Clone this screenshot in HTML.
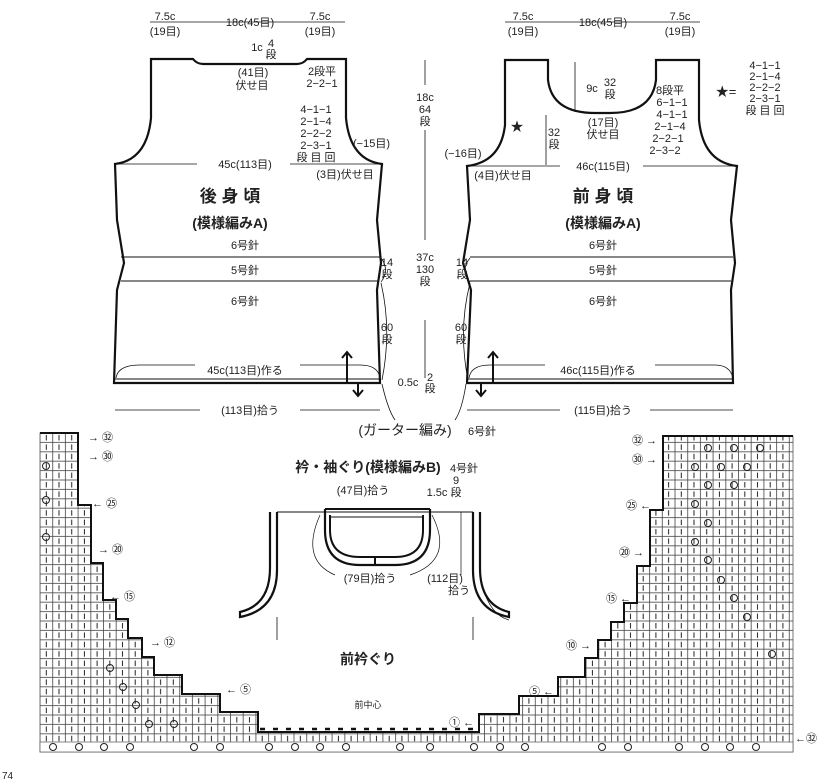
<!DOCTYPE html>
<html><head><meta charset="utf-8"><style>
html,body{margin:0;padding:0;background:#fff}
svg{display:block}
text{font-family:"Liberation Sans","Noto Sans CJK JP",sans-serif;fill:#222;font-size:11px}
.c{text-anchor:middle}
.b{font-weight:bold}
</style></head><body>
<svg width="826" height="780" viewBox="0 0 826 780" xmlns="http://www.w3.org/2000/svg">
<defs>
<pattern id="g" x="40" y="433" width="12.7" height="9.4" patternUnits="userSpaceOnUse">
<rect width="12.7" height="9.4" fill="#fff" stroke="#444" stroke-width="0.8"/>
<line x1="6.3" y1="2" x2="6.3" y2="7.5" stroke="#222" stroke-width="1"/>
</pattern>
</defs>
<rect width="826" height="780" fill="#fff"/>
<g fill="none" stroke="#111">
<path d="M151,59 L193,59 Q197,64 203,64 L297,64 Q303,64 307,59 L346,59 L346,118 Q350,160 382,164 L377,220 L381,263 L377,290 L380,383 L114,383 L117,290 L124,263 L117,220 L115,164 Q147,160 151,118 Z" stroke-width="2.2"/>
<line x1="114" y1="379" x2="380" y2="379" stroke-width="1"/>
<line x1="121" y1="257" x2="380" y2="257"/>
<line x1="121" y1="281" x2="378" y2="281"/>
<line x1="115" y1="164" x2="197" y2="164" stroke-width="0.8"/>
<line x1="290" y1="164" x2="382" y2="164" stroke-width="0.8"/>
<path d="M505,60 L548,60 L548,80 Q552,113 595,113 L610,113 Q652,113 656,80 L656,60 L699,60 L699,120 Q703,162 737,166 L731,220 L735,263 L731,290 L733,383 L467,383 L471,290 L463,263 L470,220 L467,166 Q501,162 505,125 Z" stroke-width="2.2"/>
<line x1="467" y1="379" x2="733" y2="379" stroke-width="1"/>
<line x1="470" y1="257" x2="733" y2="257"/>
<line x1="470" y1="281" x2="731" y2="281"/>
<line x1="467" y1="166" x2="560" y2="166" stroke-width="0.8"/>
<line x1="643" y1="166" x2="737" y2="166" stroke-width="0.8"/>
<g stroke-width="0.8">
<line x1="150" y1="22" x2="345" y2="22"/><line x1="505" y1="22" x2="700" y2="22"/>
<line x1="425" y1="60" x2="425" y2="85"/><line x1="425" y1="130" x2="425" y2="240"/><line x1="425" y1="320" x2="425" y2="378"/>
<line x1="115" y1="410" x2="200" y2="410"/><line x1="300" y1="410" x2="380" y2="410"/>
<line x1="467" y1="410" x2="560" y2="410"/><line x1="650" y1="410" x2="733" y2="410"/>
<line x1="575" y1="62" x2="575" y2="112"/><line x1="546" y1="115" x2="546" y2="165"/>
<path d="M116,378 Q118,365 140,365 L195,365 M300,365 L360,365 Q378,365 380,378"/>
<path d="M469,378 Q471,365 490,365 L545,365 M655,365 L715,365 Q730,365 733,378"/>
<path d="M381,258 Q390,270 381,282 M381,283 Q392,330 382,380 M382,384 Q388,410 395,420"/>
<path d="M470,258 Q460,270 470,282 M470,283 Q458,330 468,380 M466,384 Q462,410 455,420"/>
</g>
<g stroke-width="2">
<line x1="347" y1="352" x2="347" y2="383"/><path d="M342,358 L347,352 L352,358"/>
<line x1="358" y1="383" x2="358" y2="395"/><path d="M353,390 L358,396 L363,390"/>
<line x1="493" y1="352" x2="493" y2="383"/><path d="M488,358 L493,352 L498,358"/>
<line x1="481" y1="383" x2="481" y2="395"/><path d="M476,390 L481,396 L486,390"/>
</g>
<line x1="277" y1="512" x2="473" y2="512" stroke-width="0.9"/>
<path d="M270,512 L270,568 Q270,605 240,612 L240,617 Q277,610 277,570 L277,512" stroke-width="2.2"/>
<path d="M480,512 L480,568 Q480,605 509,612 L509,617 Q473,610 473,570 L473,512" stroke-width="2.2"/>
<line x1="277" y1="617" x2="277" y2="640" stroke-width="0.8"/>
<line x1="473" y1="617" x2="473" y2="640" stroke-width="0.8"/>
<path d="M325,509 L325,530 Q325,565 360,565 L395,565 Q430,565 430,530 L430,509" stroke-width="2.2"/>
<path d="M330,515 L330,530 Q330,557 360,557 L395,557 Q423,557 423,530 L423,515" stroke-width="2"/>
<line x1="325" y1="509" x2="430" y2="509" stroke-width="2"/>
<line x1="330" y1="517" x2="423" y2="517" stroke-width="1"/>
<line x1="375" y1="557" x2="375" y2="565" stroke-width="2"/>
<g stroke-width="0.7"><path d="M320,515 Q300,560 335,575"/><path d="M432,515 Q455,560 410,575"/><path d="M461,512 L461,575"/><path d="M482,585 Q490,615 509,620"/></g>
<path d="M40,433 L78,433 L78,505 L91,505 L91,563 L103,563 L103,600 L116,600 L116,619 L128,619 L128,638 L142,638 L142,657 L154,657 L154,675 L182,675 L182,694 L220,694 L220,712 L258,712 L258,732 L479,732 L479,714 L519,714 L519,696 L558,696 L558,677 L585,677 L585,658 L598,658 L598,640 L611,640 L611,622 L624,622 L624,603 L637,603 L637,566 L650,566 L650,510 L663,510 L663,436 L793,436 L793,752 L40,752 Z" fill="url(#g)" stroke="#555" stroke-width="0.8"/>
<path d="M40,433 L78,433 L78,505 L91,505 L91,563 L103,563 L103,600 L116,600 L116,619 L128,619 L128,638 L142,638 L142,657 L154,657 L154,675 L182,675 L182,694 L220,694 L220,712 L258,712 L258,732 L479,732 L479,714 L519,714 L519,696 L558,696 L558,677 L585,677 L585,658 L598,658 L598,640 L611,640 L611,622 L624,622 L624,603 L637,603 L637,566 L650,566 L650,510 L663,510 L663,436 L793,436" stroke-width="2"/>
<rect x="40" y="742" width="753" height="10" fill="#fff" stroke="#555" stroke-width="0.7"/>
<line x1="260" y1="729" x2="477" y2="729" stroke="#111" stroke-width="2.5" stroke-dasharray="5,8"/>
</g>
<g fill="none" stroke="#222" stroke-width="1">
<circle cx="53" cy="747" r="3.5"/><circle cx="79" cy="747" r="3.5"/><circle cx="104" cy="747" r="3.5"/><circle cx="130" cy="747" r="3.5"/>
<circle cx="194" cy="747" r="3.5"/><circle cx="220" cy="747" r="3.5"/><circle cx="269" cy="747" r="3.5"/><circle cx="295" cy="747" r="3.5"/><circle cx="320" cy="747" r="3.5"/><circle cx="346" cy="747" r="3.5"/>
<circle cx="400" cy="747" r="3.5"/><circle cx="430" cy="747" r="3.5"/><circle cx="474" cy="747" r="3.5"/><circle cx="500" cy="747" r="3.5"/><circle cx="525" cy="747" r="3.5"/>
<circle cx="602" cy="747" r="3.5"/><circle cx="628" cy="747" r="3.5"/><circle cx="679" cy="747" r="3.5"/><circle cx="705" cy="747" r="3.5"/><circle cx="730" cy="747" r="3.5"/><circle cx="756" cy="747" r="3.5"/>
<circle cx="46" cy="466" r="3.5"/><circle cx="46" cy="500" r="3.5"/><circle cx="46" cy="537" r="3.5"/>
<circle cx="110" cy="668" r="3.5"/><circle cx="123" cy="687" r="3.5"/><circle cx="136" cy="705" r="3.5"/><circle cx="149" cy="724" r="3.5"/><circle cx="174" cy="724" r="3.5"/>
<circle cx="708" cy="448" r="3.5"/><circle cx="734" cy="448" r="3.5"/><circle cx="760" cy="448" r="3.5"/><circle cx="695" cy="467" r="3.5"/><circle cx="721" cy="467" r="3.5"/><circle cx="747" cy="467" r="3.5"/>
<circle cx="708" cy="485" r="3.5"/><circle cx="734" cy="485" r="3.5"/><circle cx="695" cy="504" r="3.5"/><circle cx="708" cy="523" r="3.5"/><circle cx="695" cy="542" r="3.5"/><circle cx="708" cy="560" r="3.5"/><circle cx="721" cy="580" r="3.5"/><circle cx="734" cy="598" r="3.5"/><circle cx="747" cy="617" r="3.5"/><circle cx="772" cy="654" r="3.5"/>
</g>
<text x="165" y="20" class="c">7.5c</text><text x="165" y="35" class="c">(19目)</text>
<text x="250" y="26" class="c">18c(45目)</text>
<text x="320" y="20" class="c">7.5c</text><text x="320" y="35" class="c">(19目)</text>
<text x="257" y="51" class="c">1c</text><text x="271" y="47" class="c">4</text><text x="271" y="58" class="c">段</text>
<text x="253" y="76" class="c">(41目)</text><text x="252" y="89" class="c">伏せ目</text>
<text x="322" y="75" class="c">2段平</text><text x="322" y="87" class="c">2−2−1</text>
<text x="316" y="113" class="c">4−1−1</text><text x="316" y="125" class="c">2−1−4</text><text x="316" y="137" class="c">2−2−2</text><text x="316" y="149" class="c">2−3−1</text><text x="316" y="161" class="c">段 目 回</text>
<text x="353" y="147">(−15目)</text>
<text x="245" y="168" class="c">45c(113目)</text>
<text x="345" y="178" class="c">(3目)伏せ目</text>
<text x="230" y="202" class="c b" style="font-size:17px">後 身 頃</text>
<text x="230" y="228" class="c b" style="font-size:14px">(模様編みA)</text>
<text x="245" y="249" class="c">6号針</text><text x="245" y="274" class="c">5号針</text><text x="245" y="305" class="c">6号針</text>
<text x="387" y="266" class="c">14</text><text x="387" y="278" class="c">段</text>
<text x="387" y="331" class="c">60</text><text x="387" y="343" class="c">段</text>
<text x="245" y="374" class="c">45c(113目)作る</text>
<text x="250" y="414" class="c">(113目)拾う</text>
<text x="405" y="435" class="c" style="font-size:14px">(ガーター編み)</text><text x="482" y="435" class="c">6号針</text>
<text x="425" y="101" class="c">18c</text><text x="425" y="113" class="c">64</text><text x="425" y="125" class="c">段</text>
<text x="425" y="261" class="c">37c</text><text x="425" y="273" class="c">130</text><text x="425" y="285" class="c">段</text>
<text x="408" y="386" class="c">0.5c</text><text x="430" y="381" class="c">2</text><text x="430" y="392" class="c">段</text>
<text x="523" y="20" class="c">7.5c</text><text x="523" y="35" class="c">(19目)</text>
<text x="603" y="26" class="c">18c(45目)</text>
<text x="680" y="20" class="c">7.5c</text><text x="680" y="35" class="c">(19目)</text>
<text x="592" y="92" class="c">9c</text><text x="610" y="86" class="c">32</text><text x="610" y="98" class="c">段</text>
<text x="603" y="126" class="c">(17目)</text><text x="603" y="138" class="c">伏せ目</text>
<text x="670" y="94" class="c">8段平</text><text x="672" y="106" class="c">6−1−1</text><text x="672" y="118" class="c">4−1−1</text><text x="670" y="130" class="c">2−1−4</text><text x="668" y="142" class="c">2−2−1</text><text x="665" y="154" class="c">2−3−2</text>
<text x="517" y="131" class="c" style="font-size:13px">★</text>
<text x="554" y="136" class="c">32</text><text x="554" y="148" class="c">段</text>
<text x="463" y="157" class="c">(−16目)</text>
<text x="603" y="170" class="c">46c(115目)</text>
<text x="503" y="179" class="c">(4目)伏せ目</text>
<text x="726" y="96" class="c" style="font-size:13px">★=</text>
<text x="765" y="69" class="c">4−1−1</text><text x="765" y="80" class="c">2−1−4</text><text x="765" y="91" class="c">2−2−2</text><text x="765" y="102" class="c">2−3−1</text><text x="765" y="114" class="c">段 目 回</text>
<text x="603" y="202" class="c b" style="font-size:17px">前 身 頃</text>
<text x="603" y="228" class="c b" style="font-size:14px">(模様編みA)</text>
<text x="603" y="249" class="c">6号針</text><text x="603" y="274" class="c">5号針</text><text x="603" y="305" class="c">6号針</text>
<text x="462" y="266" class="c">14</text><text x="462" y="278" class="c">段</text>
<text x="461" y="331" class="c">60</text><text x="461" y="343" class="c">段</text>
<text x="598" y="374" class="c">46c(115目)作る</text>
<text x="603" y="414" class="c">(115目)拾う</text>
<text x="368" y="472" class="c b" style="font-size:14px">衿・袖ぐり(模様編みB)</text><text x="464" y="472" class="c">4号針</text>
<text x="363" y="494" class="c">(47目)拾う</text>
<text x="437" y="496" class="c">1.5c</text><text x="456" y="484" class="c">9</text><text x="456" y="496" class="c">段</text>
<text x="370" y="582" class="c">(79目)拾う</text>
<text x="445" y="582" class="c">(112目)</text><text x="459" y="594" class="c">拾う</text>
<text x="368" y="664" class="c b" style="font-size:14px">前衿ぐり</text>
<text x="368" y="708" class="c" style="font-size:9px">前中心</text>
<g style="font-size:10px">
<text x="88" y="441">→ ㉜</text><text x="88" y="460">→ ㉚</text><text x="92" y="507">← ㉕</text><text x="98" y="553">→ ⑳</text><text x="110" y="600">← ⑮</text><text x="150" y="646">→ ⑫</text><text x="226" y="693">← ⑤</text>
<text x="632" y="444">㉜ →</text><text x="632" y="463">㉚ →</text><text x="626" y="509">㉕ ←</text><text x="619" y="556">⑳ →</text><text x="606" y="602">⑮ ←</text><text x="566" y="649">⑩ →</text><text x="529" y="695">⑤ ←</text><text x="449" y="726">① ←</text><text x="795" y="742">←㉜</text>
</g>
<text x="2" y="779" style="font-size:10px">74</text>
</svg>
</body></html>
